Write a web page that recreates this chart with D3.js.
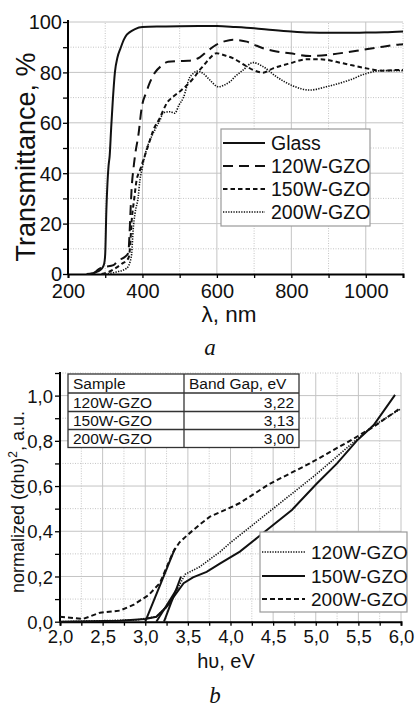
<!DOCTYPE html>
<html><head><meta charset="utf-8">
<script src="https://cdn.jsdelivr.net/npm/d3@7"></script>
<style>
html,body{margin:0;padding:0;background:#fff;}
svg{display:block;font-family:"Liberation Sans",Arial,sans-serif;}
</style></head>
<body>
<script>
// ---------- Data: chart a (transmittance) ----------
const glassX = [250,265,280,290,297,300,303,306,309,312,316,320,326,333,341,350,358,366,380,400,450,500,600,650,700,750,800,850,900,950,1000,1050,1100];
const glassY = [0,0.3,1,2,4,8,25,36,43,47,58,68,80,86,89.5,93,95,96,97.2,98,98.2,98.3,98.4,98,97.5,96.8,96.2,95.8,95.7,95.7,95.8,95.9,96.2];
const w120X = [268,286,300,322,334,350,362,365,368,371,376,381,389,398,410,420,434,450,469,500,523,554,575,599,620,643,660,680,700,724,760,796,850,912,950,993,1046,1091,1100];
const w120Y = [0,2.2,2.8,3.5,5.3,6.5,8.3,15,25,34,42,48,55,66,72,76,80,82.5,84.2,84.5,84.6,86,88.5,91,92.3,93,92.8,92.2,91,89.6,88.3,87.6,86.5,87.2,88,89,90.2,91.1,91.2];
const w150X = [290,304,330,344,362,366,371,378,384,393,402,420,429,447,456,465,483,505,520,536,554,563,580,599,620,644,670,697,724,751,796,841,877,939,1002,1046,1091,1100];
const w150Y = [0,0.5,2.5,4,6.2,9.5,21,30,37,41,45,53,57,62,65,67.7,70.4,73,75,77.5,81,82.5,85.5,87.6,86.8,85.6,83.3,81,79.9,81.6,83.6,85.2,85.2,83.6,81.6,80.7,81,81];
const w200X = [300,330,357,368,371,375,380,389,393,398,411,420,438,447,456,474,487,498,510,527,536,546,563,581,604,620,635,650,671,697,724,760,805,850,894,957,1002,1046,1091,1100];
const w200Y = [0,0.8,2.2,5.5,8,17.5,24,31,37,41,49.5,53,58.5,61,64,64.4,63.8,67,70,78,79.5,80.5,79.6,77,74.3,75,76.3,78.5,81,83.9,82.3,78.3,74.6,73,74.3,77,79.6,80.7,80.7,80.7];
const seriesA = ["Glass","120W-GZO","150W-GZO","200W-GZO"];
const xTicksA = [200,400,600,800,1000];
const yTicksA = [0,20,40,60,80,100];

// ---------- Data: chart b (Tauc plot) ----------
const e120X = [2.0,2.9,3.13,3.29,3.39,3.47,3.64,3.88,4.0,4.5,5.0,5.4,5.67,5.99];
const e120Y = [0,0.008,0.022,0.08,0.155,0.21,0.243,0.31,0.35,0.50,0.65,0.78,0.865,0.94];
const e150X = [2.0,2.7,3.0,3.13,3.25,3.35,3.45,3.56,3.72,3.88,4.11,4.31,4.5,4.72,5.01,5.25,5.48,5.68,5.93];
const e150Y = [0,0.004,0.012,0.022,0.066,0.118,0.17,0.196,0.22,0.258,0.31,0.37,0.428,0.494,0.61,0.70,0.80,0.87,1.003];
const e200X = [2.0,2.27,2.47,2.70,2.86,3.04,3.17,3.25,3.33,3.40,3.50,3.64,3.76,3.88,4.0,4.11,4.46,4.93,5.40,5.67,5.99];
const e200Y = [0.022,0.012,0.04,0.049,0.074,0.118,0.17,0.24,0.31,0.35,0.385,0.43,0.465,0.485,0.505,0.525,0.61,0.70,0.80,0.86,0.944];
const tangent120 = [[3.22,0],[3.42,0.20]];
const tangent150 = [[3.13,0],[3.38,0.15]];
const tangent200 = [[3.00,0],[3.35,0.325]];
const seriesB = ["120W-GZO","150W-GZO","200W-GZO"];
const tableHead = ["Sample","Band Gap, eV"];
const tableSamples = ["120W-GZO","150W-GZO","200W-GZO"];
const tableGaps = ["3,22","3,13","3,00"];
const xTicksB = [2.0,2.5,3.0,3.5,4.0,4.5,5.0,5.5,6.0];
const yTicksB = [0.0,0.2,0.4,0.6,0.8,1.0];

const svg = d3.select("body").append("svg").attr("width",416).attr("height",707);
const gridCol = "#c4c4c4";
const comma = v => d3.format(".1f")(v).replace(".",",");

// ================= Chart a =================
const xA = d3.scaleLinear([200,1100],[68,403]);
const yA = d3.scaleLinear([0,100],[274,22]);
const gA = svg.append("g");
// grid
d3.range(300,1101,100).forEach(v=>{
  gA.append("line").attr("x1",xA(v)).attr("x2",xA(v)).attr("y1",yA(0)).attr("y2",yA(100))
    .attr("stroke",gridCol).attr("stroke-width",1).attr("stroke-dasharray", v%200===0? null : "1,1.5");
});
d3.range(10,101,10).forEach(v=>{
  gA.append("line").attr("x1",xA(200)).attr("x2",xA(1100)).attr("y1",yA(v)).attr("y2",yA(v))
    .attr("stroke",gridCol).attr("stroke-width",1).attr("stroke-dasharray", v%20===0? null : "1,1.5");
});
// axes
const axXA = d3.axisBottom(xA).tickValues(d3.range(200,1101,100)).tickSize(4)
  .tickFormat(d=> xTicksA.includes(d)? d : "");
const gxA = gA.append("g").attr("transform",`translate(0,${yA(0)})`).call(axXA);
const axYA = d3.axisLeft(yA).tickValues(d3.range(0,101,10)).tickSize(5)
  .tickFormat(d=> yTicksA.includes(d)? d : "");
const gyA = gA.append("g").attr("transform",`translate(${xA(200)},0)`).call(axYA);
[gxA,gyA].forEach(g=>{
  g.select(".domain").attr("stroke","#000").attr("stroke-width",2);
  g.selectAll(".tick line").attr("stroke","#000").attr("stroke-width",1.3);
  g.selectAll("text").attr("font-size",20).attr("fill","#111").attr("font-family","Liberation Sans, Arial, sans-serif");
});
gyA.select(".domain").attr("d",`M-0,20V${yA(0)}`);
gxA.selectAll("text").attr("dy","0.95em").attr("y",4.5);
gyA.selectAll("text").attr("x",-6).attr("dy","0.34em");
// lines
const lineA = d3.line().x(d=>xA(d[0])).y(d=>yA(d[1])).curve(d3.curveMonotoneX);
const zip = (a,b)=>a.map((v,i)=>[v,b[i]]);
const stylesA = [
  {dash:null,w:2},
  {dash:"10,6",w:2},
  {dash:"4.5,3",w:2},
  {dash:"1.3,1.3",w:1.6}
];
const dataA = [zip(glassX,glassY),zip(w120X,w120Y),zip(w150X,w150Y),zip(w200X,w200Y)];
dataA.forEach((d,i)=>{
  gA.append("path").attr("d",lineA(d)).attr("fill","none").attr("stroke","#111")
    .attr("stroke-width",stylesA[i].w).attr("stroke-dasharray",stylesA[i].dash);
});
// legend a
gA.append("rect").attr("x",221).attr("y",129).attr("width",149).attr("height",97)
  .attr("fill","#fff").attr("stroke","#9a9a9a").attr("stroke-width",1.2);
const legYA = [143,166,189,212];
seriesA.forEach((s,i)=>{
  gA.append("line").attr("x1",223).attr("x2",265).attr("y1",legYA[i]).attr("y2",legYA[i])
    .attr("stroke","#111").attr("stroke-width",stylesA[i].w).attr("stroke-dasharray",stylesA[i].dash);
  gA.append("text").attr("x",271).attr("y",legYA[i]).attr("dy","0.36em").attr("font-size",19.5).attr("fill","#111").text(s);
});
// labels
gA.append("text").attr("transform","translate(35,157) rotate(-90)").attr("text-anchor","middle")
  .attr("font-size",27).attr("fill","#111").text("Transmittance, %");
gA.append("text").attr("x",229).attr("y",322).attr("text-anchor","middle").attr("font-size",22.5).attr("fill","#111").text("λ, nm");
svg.append("text").attr("x",210).attr("y",355).attr("text-anchor","middle").attr("font-size",23)
  .attr("font-family","Liberation Serif, serif").attr("font-style","italic").attr("fill","#111").text("a");

// ================= Chart b =================
const xB = d3.scaleLinear([2,6],[60,401]);
const yB = d3.scaleLinear([0,1.1],[621.7,373]);
const gB = svg.append("g");
d3.range(1,17).map(i=>2+i*0.25).forEach(v=>{
  const major = Math.abs(v*2-Math.round(v*2))<1e-6;
  gB.append("line").attr("x1",xB(v)).attr("x2",xB(v)).attr("y1",yB(0)).attr("y2",yB(1.1))
    .attr("stroke",gridCol).attr("stroke-width",1).attr("stroke-dasharray", major? null : "1,1.5");
});
d3.range(1,12).map(i=>i/10).forEach((v,i)=>{
  const major = (i+1)%2===0;
  gB.append("line").attr("x1",xB(2)).attr("x2",xB(6)).attr("y1",yB(v)).attr("y2",yB(v))
    .attr("stroke",gridCol).attr("stroke-width",1).attr("stroke-dasharray", major? null : "1,1.5");
});
const axXB = d3.axisBottom(xB).tickValues(d3.range(0,17).map(i=>2+i*0.25)).tickSize(4)
  .tickFormat(d=> xTicksB.some(t=>Math.abs(t-d)<1e-6)? comma(d) : "");
const gxB = gB.append("g").attr("transform",`translate(0,${yB(0)})`).call(axXB);
const axYB = d3.axisLeft(yB).tickValues(d3.range(0,12).map(i=>i/10)).tickSize(5)
  .tickFormat(d=> yTicksB.some(t=>Math.abs(t-d)<1e-6)? comma(d) : "");
const gyB = gB.append("g").attr("transform",`translate(${xB(2)},0)`).call(axYB);
[gxB,gyB].forEach(g=>{
  g.select(".domain").attr("stroke","#000").attr("stroke-width",2);
  g.selectAll(".tick line").attr("stroke","#000").attr("stroke-width",1.3);
  g.selectAll("text").attr("font-size",18.5).attr("fill","#111").attr("font-family","Liberation Sans, Arial, sans-serif");
});
gyB.select(".domain").attr("d",`M-0,372V${yB(0)}`);
gxB.selectAll("text").attr("y",4).attr("dy","0.95em");
gyB.selectAll("text").attr("x",-7).attr("dy","0.36em");

const lineB = d3.line().x(d=>xB(d[0])).y(d=>yB(d[1]));
const stylesB = [
  {dash:"1.3,1.3",w:1.6},
  {dash:null,w:2},
  {dash:"5,3",w:2}
];
const dataB = [zip(e120X,e120Y),zip(e150X,e150Y),zip(e200X,e200Y)];
dataB.forEach((d,i)=>{
  gB.append("path").attr("d",lineB(d)).attr("fill","none").attr("stroke","#111")
    .attr("stroke-width",stylesB[i].w).attr("stroke-dasharray",stylesB[i].dash);
});
[tangent120,tangent150,tangent200].forEach(t=>{
  gB.append("path").attr("d",lineB(t)).attr("fill","none").attr("stroke","#111").attr("stroke-width",2);
});
// table
const tb = gB.append("g");
const rowY = [374,393,411.5,429.5,447.5];
tb.append("rect").attr("x",68).attr("y",rowY[0]).attr("width",231).attr("height",rowY[4]-rowY[0])
  .attr("fill","#fff").attr("stroke","#333").attr("stroke-width",1.3);
rowY.slice(1,4).forEach(y=>tb.append("line").attr("x1",68).attr("x2",299).attr("y1",y).attr("y2",y).attr("stroke","#333").attr("stroke-width",1.3));
tb.append("line").attr("x1",184).attr("x2",184).attr("y1",rowY[0]).attr("y2",rowY[4]).attr("stroke","#333").attr("stroke-width",1.3);
tb.append("text").attr("x",73).attr("y",(rowY[0]+rowY[1])/2).attr("dy","0.36em").attr("font-size",15.5).attr("fill","#111").text(tableHead[0]);
tb.append("text").attr("x",189).attr("y",(rowY[0]+rowY[1])/2).attr("dy","0.36em").attr("font-size",15.5).attr("fill","#111").text(tableHead[1]);
tableSamples.forEach((s,i)=>{
  const cy=(rowY[i+1]+rowY[i+2])/2;
  tb.append("text").attr("x",73).attr("y",cy).attr("dy","0.36em").attr("font-size",15.5).attr("fill","#111").text(s);
  tb.append("text").attr("x",294).attr("y",cy).attr("dy","0.36em").attr("text-anchor","end").attr("font-size",15.5).attr("fill","#111").text(tableGaps[i]);
});
// legend b
gB.append("rect").attr("x",260).attr("y",532).attr("width",147).attr("height",80)
  .attr("fill","#fff").attr("stroke","#9a9a9a").attr("stroke-width",1.2);
const legYB = [552,576,599];
seriesB.forEach((s,i)=>{
  gB.append("line").attr("x1",262).attr("x2",305).attr("y1",legYB[i]).attr("y2",legYB[i])
    .attr("stroke","#111").attr("stroke-width",stylesB[i].w).attr("stroke-dasharray",stylesB[i].dash);
  gB.append("text").attr("x",311).attr("y",legYB[i]).attr("dy","0.36em").attr("font-size",19).attr("fill","#111").text(s);
});
// labels b
const yl = gB.append("text").attr("transform","translate(24,502) rotate(-90)").attr("text-anchor","middle")
  .attr("font-size",18).attr("fill","#111");
yl.append("tspan").text("normalized (αhυ)");
yl.append("tspan").attr("dy",-7).attr("font-size",12).text("2");
yl.append("tspan").attr("dy",7).text(", a.u.");
gB.append("text").attr("x",226).attr("y",668).attr("text-anchor","middle").attr("font-size",20).attr("fill","#111").text("hυ, eV");
svg.append("text").attr("x",215).attr("y",703).attr("text-anchor","middle").attr("font-size",23)
  .attr("font-family","Liberation Serif, serif").attr("font-style","italic").attr("fill","#111").text("b");
</script>
</body></html>
